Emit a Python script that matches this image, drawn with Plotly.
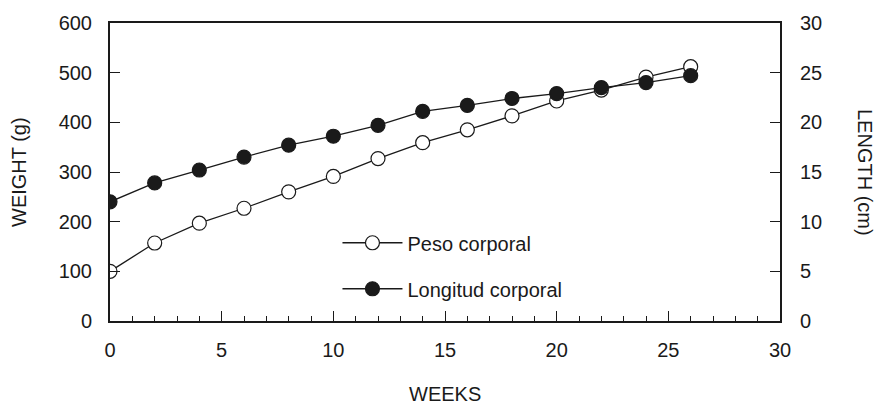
import plotly.graph_objects as go

weeks = [0, 2, 4, 6, 8, 10, 12, 14, 16, 18, 20, 22, 24, 26]
peso = [100, 157, 197, 227, 260, 291, 327, 359, 385, 413, 443, 465, 491, 512]
longitud = [12.0, 13.9, 15.2, 16.5, 17.7, 18.6, 19.7, 21.1, 21.7, 22.4, 22.9, 23.5, 24.0, 24.7]

FONT = "Liberation Sans, Arial, sans-serif"
INK = "#1a1a1a"
FS = 20

fig = go.Figure()
fig.add_trace(go.Scatter(
    x=weeks, y=peso, mode="lines+markers", name="Peso corporal",
    legendgroup="a",
    line=dict(color=INK, width=1.3),
    marker=dict(symbol="circle", size=14, color="white", line=dict(color=INK, width=1.2)),
    yaxis="y",
))
fig.add_trace(go.Scatter(
    x=weeks, y=longitud, mode="lines+markers", name="Longitud corporal",
    legendgroup="b",
    line=dict(color=INK, width=1.3),
    marker=dict(symbol="circle", size=14, color=INK, line=dict(color=INK, width=1.2)),
    yaxis="y2",
))

fig.update_layout(
    width=875, height=406,
    margin=dict(l=110, r=95, t=21, b=85),
    paper_bgcolor="white", plot_bgcolor="white",
    font=dict(family=FONT, size=FS, color=INK),
    showlegend=True,
    legend=dict(
        x=0.3395, y=0.328, xanchor="left", yanchor="top",
        bgcolor="rgba(0,0,0,0)", font=dict(size=FS, color=INK),
        traceorder="grouped", tracegroupgap=17, itemwidth=60,
    ),
    xaxis=dict(
        range=[0, 30], dtick=5, tick0=0,
        showline=True, linecolor=INK, linewidth=2, mirror=True,
        ticks="inside", ticklen=10, tickwidth=1, tickcolor=INK,
        minor=dict(ticks="inside", dtick=1, ticklen=5, tickwidth=1, tickcolor=INK, showgrid=False),
        showgrid=False, zeroline=False,
        tickfont=dict(size=FS), ticklabelstandoff=10,
    ),
    yaxis=dict(
        range=[0, 600], dtick=100,
        showline=True, linecolor=INK, linewidth=2,
        ticks="inside", ticklen=10, tickwidth=1, tickcolor=INK,
        showgrid=False, zeroline=False,
        tickfont=dict(size=FS), ticklabelstandoff=12,
    ),
    yaxis2=dict(
        range=[0, 30], dtick=5, overlaying="y", side="right",
        showline=True, linecolor=INK, linewidth=2,
        ticks="inside", ticklen=10, tickwidth=1, tickcolor=INK,
        showgrid=False, zeroline=False,
        tickfont=dict(size=FS), ticklabelstandoff=14,
    ),
    annotations=[
        dict(text="LENGTH (cm)", xref="paper", yref="paper", x=1.0, y=0.5,
             xanchor="center", yanchor="middle", xshift=85, textangle=90,
             showarrow=False, font=dict(size=FS, color=INK)),
        dict(text="WEIGHT (g)", xref="paper", yref="paper", x=0.0, y=0.5,
             xanchor="center", yanchor="middle", xshift=-91, textangle=-90,
             showarrow=False, font=dict(size=FS, color=INK)),
        dict(text="WEEKS", xref="paper", yref="paper", x=0.5, y=0.0,
             xanchor="center", yanchor="middle", yshift=-73,
             showarrow=False, font=dict(size=FS, color=INK)),
    ],
)

fig.write_html("out.html")
